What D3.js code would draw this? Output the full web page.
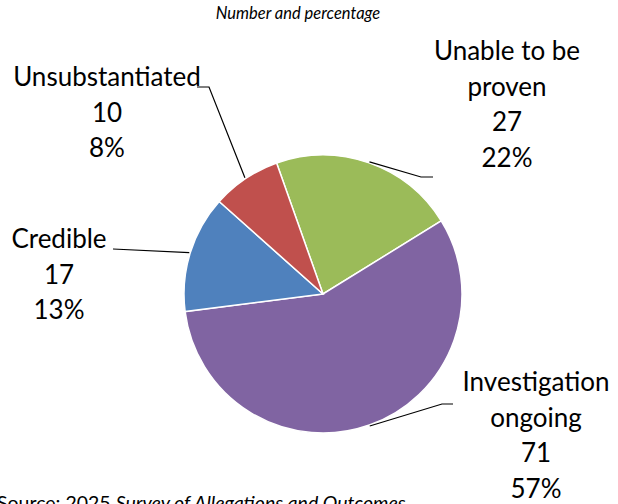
<!DOCTYPE html>
<html>
<head>
<meta charset="utf-8">
<script src="https://cdn.jsdelivr.net/npm/d3@7"></script>
<style>
  body { margin: 0; background: #fff; }
  svg { display: block; font-family: Lato, "Open Sans", sans-serif; }
</style>
</head>
<body>
<script>
// data
const categories = ["Unable to be proven", "Investigation ongoing", "Credible", "Unsubstantiated"];
const counts = [27, 71, 17, 10];
const percents = ["22%", "57%", "13%", "8%"];
const colors = ["#9BBB59", "#8064A2", "#4F81BD", "#C0504D"];

// label layout: text lines, centre x, first baseline, elbow points of leader line
const labelLines = [["Unable to be", "proven"], ["Investigation", "ongoing"], ["Credible"], ["Unsubstantiated"]];
const labelPos = [[507, 60], [536, 391], [59, 248], [107, 86]];
const elbows = [[[421, 177], [433, 177]], [[442, 404], [453, 404]], [[113, 249]], [[209, 87], [197, 87]]];

const width = 618, height = 504;
const cx = 323, cy = 294, radius = 139;
const lineH = 35.5;

const svg = d3.select("body").append("svg")
    .attr("width", width)
    .attr("height", height);

// title
svg.append("text")
    .attr("x", 298)
    .attr("y", 19)
    .attr("text-anchor", "middle")
    .style("font-size", "16.5px")
    .style("font-style", "italic")
    .text("Number and percentage");

const startA = -19.5 * Math.PI / 180;
const pie = d3.pie().sort(null)
    .startAngle(startA)
    .endAngle(startA + 2 * Math.PI);
const arcs = pie(counts);
const arc = d3.arc().innerRadius(0).outerRadius(radius);

const g = svg.append("g").attr("transform", "translate(" + cx + "," + cy + ")");

g.selectAll("path")
    .data(arcs)
    .enter()
    .append("path")
    .attr("d", arc)
    .attr("fill", (d, i) => colors[i])
    .attr("stroke", "#fff")
    .attr("stroke-width", 1.5);

// leader lines from the slice edge (mid angle) to the label
arcs.forEach((d, i) => {
    const a = (d.startAngle + d.endAngle) / 2;
    const p0 = [cx + Math.sin(a) * (radius + 1), cy - Math.cos(a) * (radius + 1)];
    const pts = [p0].concat(elbows[i]);
    svg.append("path")
        .attr("d", d3.line()(pts))
        .attr("fill", "none")
        .attr("stroke", "#000")
        .attr("stroke-width", 1.2);
});

// labels
categories.forEach((c, i) => {
    const lines = labelLines[i].concat([String(counts[i]), percents[i]]);
    const t = svg.append("text")
        .attr("text-anchor", "middle")
        .style("font-size", "26px")
        .attr("fill", "#000");
    lines.forEach((s, j) => {
        t.append("tspan")
            .attr("x", labelPos[i][0])
            .attr("y", labelPos[i][1] + j * lineH)
            .text(s);
    });
});

// source note, cut off by the bottom edge as in the original
const src = svg.append("text")
    .attr("x", -3)
    .attr("y", 510)
    .style("font-size", "19.5px");
src.append("tspan").text("Source: 2025 ");
src.append("tspan").style("font-style", "italic").text("Survey of Allegations and Outcomes");
</script>
</body>
</html>
